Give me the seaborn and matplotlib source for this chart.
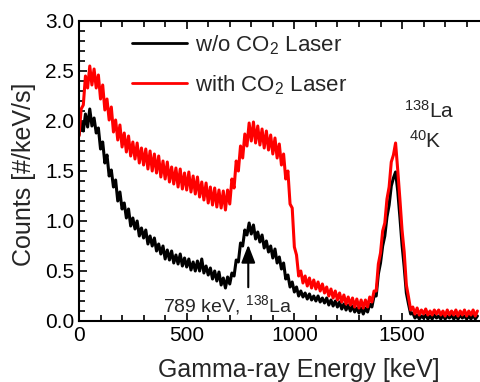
import numpy as np
import pandas as pd
import matplotlib
matplotlib.use("Agg")
import matplotlib.pyplot as plt
import seaborn as sns
from matplotlib.ticker import MultipleLocator

# energy grid (keV), one reading every 10 keV
energy = np.arange(0, 1860, 10)

# counts (noise band traced as upper / lower swings)
counts_without = [
    1.86, 1.99, 1.90, 2.07, 1.94, 2.12, 1.95, 2.03, 1.88, 1.93,
    1.72, 1.79, 1.58, 1.66, 1.45, 1.51, 1.34, 1.41, 1.20, 1.29,
    1.12, 1.18, 1.03, 1.12, 0.95, 1.03, 0.92, 1.00, 0.85, 0.93,
    0.83, 0.91, 0.77, 0.85, 0.75, 0.83, 0.70, 0.77, 0.67, 0.75,
    0.62, 0.71, 0.61, 0.70, 0.58, 0.66, 0.57, 0.67, 0.55, 0.63,
    0.54, 0.62, 0.51, 0.59, 0.50, 0.60, 0.50, 0.62, 0.48, 0.55,
    0.46, 0.53, 0.42, 0.50, 0.40, 0.49, 0.36, 0.43, 0.33, 0.44,
    0.37, 0.48, 0.45, 0.61, 0.59, 0.78, 0.75, 0.91, 0.86, 0.98,
    0.87, 0.96, 0.82, 0.89, 0.79, 0.86, 0.73, 0.80, 0.69, 0.75,
    0.63, 0.72, 0.58, 0.64, 0.52, 0.58, 0.42, 0.46, 0.34, 0.39,
    0.29, 0.34, 0.25, 0.30, 0.24, 0.28, 0.22, 0.27, 0.21, 0.25,
    0.20, 0.25, 0.19, 0.23, 0.18, 0.23, 0.16, 0.21, 0.15, 0.20,
    0.14, 0.19, 0.12, 0.17, 0.11, 0.16, 0.10, 0.15, 0.09, 0.13,
    0.08, 0.13, 0.07, 0.13, 0.09, 0.17, 0.14, 0.25, 0.25, 0.47,
    0.58, 0.75, 0.85, 1.04, 1.16, 1.35, 1.43, 1.49, 1.30, 1.04,
    0.76, 0.54, 0.28, 0.17, 0.07, 0.08, 0.03, 0.06, 0.02, 0.05,
    0.03, 0.06, 0.02, 0.05, 0.02, 0.06, 0.03, 0.05, 0.02, 0.06,
    0.02, 0.05, 0.03, 0.06, 0.02, 0.05, 0.02, 0.06, 0.03, 0.05,
    0.02, 0.05, 0.02, 0.06, 0.02, 0.05,
]

counts_with = [
    1.85, 2.12, 2.16, 2.45, 2.33, 2.55, 2.36, 2.52, 2.33, 2.46,
    2.22, 2.36, 2.11, 2.22, 2.01, 2.14, 1.89, 2.01, 1.81, 1.96,
    1.74, 1.88, 1.69, 1.85, 1.65, 1.79, 1.62, 1.78, 1.58, 1.73,
    1.56, 1.72, 1.52, 1.70, 1.50, 1.67, 1.48, 1.65, 1.44, 1.60,
    1.42, 1.59, 1.39, 1.54, 1.37, 1.53, 1.34, 1.52, 1.32, 1.48,
    1.31, 1.49, 1.29, 1.45, 1.27, 1.44, 1.24, 1.39, 1.21, 1.38,
    1.18, 1.34, 1.16, 1.33, 1.14, 1.31, 1.13, 1.30, 1.11, 1.31,
    1.17, 1.42, 1.33, 1.60, 1.50, 1.75, 1.63, 1.87, 1.75, 1.98,
    1.80, 1.99, 1.78, 1.95, 1.76, 1.92, 1.73, 1.90, 1.71, 1.86,
    1.67, 1.83, 1.63, 1.77, 1.56, 1.67, 1.42, 1.50, 1.17, 1.13,
    0.74, 0.66, 0.45, 0.50, 0.38, 0.45, 0.35, 0.43, 0.33, 0.41,
    0.32, 0.39, 0.30, 0.37, 0.28, 0.34, 0.25, 0.32, 0.23, 0.30,
    0.21, 0.28, 0.19, 0.26, 0.17, 0.24, 0.16, 0.23, 0.14, 0.22,
    0.13, 0.21, 0.13, 0.21, 0.14, 0.24, 0.19, 0.30, 0.30, 0.57,
    0.68, 0.90, 0.98, 1.22, 1.34, 1.59, 1.66, 1.78, 1.51, 1.22,
    0.91, 0.69, 0.36, 0.24, 0.11, 0.14, 0.07, 0.13, 0.06, 0.11,
    0.07, 0.12, 0.06, 0.10, 0.06, 0.11, 0.07, 0.11, 0.06, 0.10,
    0.05, 0.11, 0.06, 0.10, 0.06, 0.11, 0.05, 0.10, 0.06, 0.11,
    0.05, 0.10, 0.06, 0.11, 0.05, 0.10,
]

df = pd.DataFrame({"Energy": energy, "without": counts_without, "with": counts_with})

sns.set_theme(style="ticks")
plt.rcParams["font.family"] = ["Liberation Sans", "DejaVu Sans"]
plt.rcParams["mathtext.default"] = "regular"

fig = plt.figure(figsize=(4.8, 3.82), dpi=100)
ax = fig.add_axes([79 / 480, 61 / 382, 401 / 480, 300 / 382])

sns.lineplot(data=df, x="Energy", y="without", color="black", lw=2.2,
             label="w/o CO$_2$ Laser", ax=ax)
sns.lineplot(data=df, x="Energy", y="with", color="#ff0000", lw=2.2,
             label="with CO$_2$ Laser", ax=ax)

ax.set_xlim(0, 1862)
ax.set_ylim(0, 3.0)
ax.xaxis.set_major_locator(MultipleLocator(500))
ax.xaxis.set_minor_locator(MultipleLocator(100))
ax.yaxis.set_major_locator(MultipleLocator(0.5))
ax.yaxis.set_minor_locator(MultipleLocator(0.1))
ax.yaxis.set_major_formatter(matplotlib.ticker.FormatStrFormatter("%.1f"))
ax.tick_params(which="both", direction="in", top=True, right=False,
               width=1.2, labelsize=15, colors="black")
ax.tick_params(which="major", length=6)
ax.tick_params(which="minor", length=4)
for side in ["left", "bottom", "top"]:
    ax.spines[side].set_linewidth(1.5)
    ax.spines[side].set_color("black")
ax.spines["right"].set_visible(False)

ax.set_xlabel("Gamma-ray Energy [keV]", fontsize=18)
ax.set_ylabel("Counts [#/keV/s]", fontsize=18)
ax.xaxis.set_label_coords(0.549, -0.124)
ax.yaxis.set_label_coords(-0.108, 0.49)

leg = ax.legend(loc="upper left", bbox_to_anchor=(0.132, 0.96), frameon=False,
                fontsize=16, handlelength=2.5, handletextpad=0.36,
                labelspacing=0.75, borderpad=0, borderaxespad=0)
for line in leg.get_lines():
    line.set_linewidth(2)

ax.text(1507, 2.03, "$^{138}$La", fontsize=15)
ax.text(1530, 1.73, "$^{40}$K", fontsize=15)
ax.text(390, 0.09, "789 keV, $^{138}$La", fontsize=14)
ax.annotate("", xy=(786, 0.79), xytext=(786, 0.31),
            arrowprops=dict(arrowstyle="-|>,head_length=0.9,head_width=0.35",
                            color="black", lw=1.5))

fig.savefig("out.png", dpi=100)
